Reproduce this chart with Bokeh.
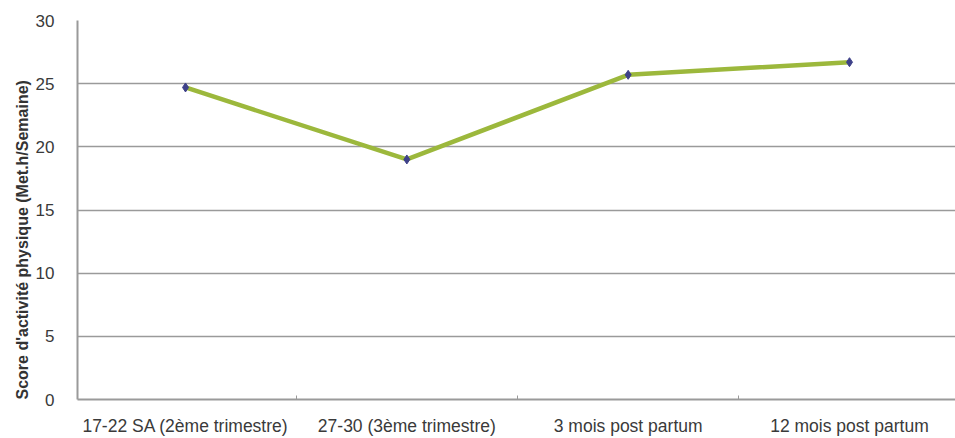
from bokeh.plotting import figure
from bokeh.models import FixedTicker, Title
from bokeh.embed import file_html
from bokeh.resources import INLINE

# Physical activity score at each follow-up period
periods = ["17-22 SA (2ème trimestre)", "27-30 (3ème trimestre)",
           "3 mois post partum", "12 mois post partum"]
scores = [24.7, 19.0, 25.7, 26.7]
y_ticks = [0, 5, 10, 15, 20, 25, 30]

xs = list(range(len(periods)))

p = figure(width=955, height=438, output_backend="svg", toolbar_location=None,
           x_range=(-0.488, 3.479), y_range=(0, 30),
           min_border_left=77, min_border_right=0, min_border_top=20,
           min_border_bottom=35)
p.outline_line_color = None
p.background_fill_color = "white"

# grid
p.xgrid.grid_line_color = None
p.ygrid.grid_line_color = "#9a9a9a"
p.ygrid.grid_line_width = 1.6
p.ygrid.ticker = FixedTicker(ticks=y_ticks)

# y axis
p.yaxis.ticker = FixedTicker(ticks=y_ticks)
p.yaxis.axis_line_color = "#9a9a9a"
p.yaxis.axis_line_width = 2
p.yaxis.major_tick_line_color = None
p.yaxis.minor_tick_line_color = None
p.yaxis.major_label_standoff = 17
p.yaxis.major_label_text_font = "Liberation Sans"
p.yaxis.major_label_text_font_size = "17px"
p.yaxis.major_label_text_color = "#3a3a3a"

# x axis: category labels at the centres, small marks between them
p.xaxis.ticker = FixedTicker(ticks=xs, minor_ticks=[0.5, 1.5, 2.5])
p.xaxis.major_label_overrides = {i: t for i, t in enumerate(periods)}
p.xaxis.axis_line_color = "#9a9a9a"
p.xaxis.axis_line_width = 2
p.xaxis.major_tick_line_color = None
p.xaxis.minor_tick_line_color = "#9a9a9a"
p.xaxis.minor_tick_in = 4
p.xaxis.minor_tick_out = 0
p.xaxis.major_label_standoff = 10
p.xaxis.major_label_text_font = "Liberation Sans"
p.xaxis.major_label_text_font_size = "17.5px"
p.xaxis.major_label_text_color = "#3a3a3a"

# series
p.line(xs, scores, line_color="#9cb83c", line_width=4.5, line_join="round")
p.scatter(xs, scores, marker="diamond", size=9, fill_color="#3e4189",
          line_color="#3e4189")

# y axis title, starting at the bottom of the frame
p.add_layout(Title(text="Score d'activité physique (Met.h/Semaine)",
                   align="left", standoff=4,
                   text_font="Liberation Sans", text_font_style="bold",
                   text_font_size="16px", text_color="#333333"), "left")

open("out.html", "w").write(file_html(p, INLINE))
